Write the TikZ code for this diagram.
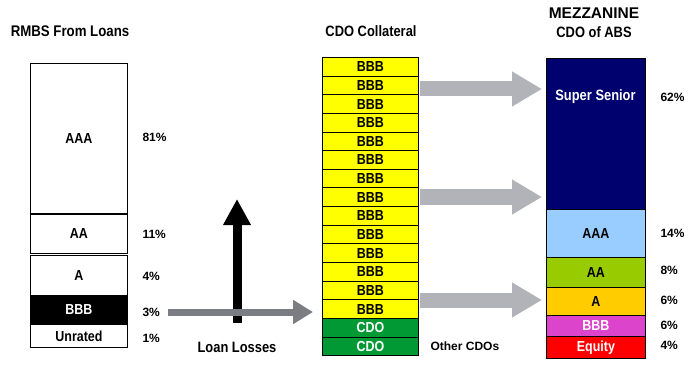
\documentclass[tikz,border=0pt]{standalone}
\usepackage{fontspec}
\setmainfont{Liberation Sans}
\newfontfamily\condfont{Liberation Sans}[FakeStretch=0.86]
\usetikzlibrary{arrows.meta}
\definecolor{cdoyellow}{RGB}{255,255,0}
\definecolor{cdogreen}{RGB}{0,153,51}
\definecolor{ssnavy}{RGB}{0,0,110}
\definecolor{aaablue}{RGB}{153,204,255}
\definecolor{aagreen}{RGB}{153,204,0}
\definecolor{aorange}{RGB}{255,204,0}
\definecolor{bbbpink}{RGB}{221,68,204}
\definecolor{eqred}{RGB}{255,0,0}
\definecolor{arrowgray}{RGB}{178,179,185}
\definecolor{lossgray}{RGB}{122,126,130}
\tikzset{
  tranche/.style={draw, line width=0.9pt, anchor=north west, minimum width=97pt,
    inner sep=0pt, font=\condfont\bfseries\fontsize{14.5}{14.5}\selectfont},
  pct/.style={anchor=west, font=\bfseries\fontsize{12}{12}\selectfont},
  heading/.style={font=\condfont\bfseries\fontsize{15}{15}\selectfont},
  bigarrow/.style={draw=arrowgray, line width=15pt, -{Triangle[length=30pt,width=33pt]}}
}
\begin{document}
\begin{tikzpicture}[x=1pt, y=-1pt]
            \useasboundingbox (0,0) rectangle (700,379);
            % titles
            \node [heading, font=\condfont\bfseries\fontsize{15.4}{15.4}\selectfont] (rmbs) at (70, 31) {RMBS From Loans};
            \node [heading] (collateral) at (371, 31) {CDO Collateral};
            \node [heading, font=\bfseries\fontsize{15.5}{15.5}\selectfont] (mezz) at (594, 13) {MEZZANINE};
            \node [heading] (cdoabs) at (594, 32) {CDO of ABS};
            % RMBS
            \node [tranche, minimum height=150pt] (aaa) at (30, 63) {AAA};
            \node [tranche, minimum height=39pt] (aa) at (30, 214) {AA};
            \node [tranche, minimum height=40pt] (a) at (30, 255) {A};
            \node [tranche, minimum height=29pt, fill=black, text=white] (bbb) at (30, 295) {BBB};
            \node [tranche, minimum height=23pt] (unrated) at (30, 324) {Unrated};
            \node [pct] (p81) at (139, 137) {81\%};
            \node [pct] (p11) at (139, 234) {11\%};
            \node [pct] (p4) at (139, 276) {4\%};
            \node [pct] (p3) at (139, 312) {3\%};
            \node [pct] (p1) at (139, 338) {1\%};
            % CDO collateral
            \foreach \i in {0,...,13}
              \node [tranche, minimum width=96pt, minimum height=18.64pt, fill=cdoyellow] (col\i) at (322, {57+18.64*\i}) {BBB};
            \node [tranche, minimum width=96pt, minimum height=19pt, fill=cdogreen, text=white] (cdo1) at (322, 318) {CDO};
            \node [tranche, minimum width=96pt, minimum height=18pt, fill=cdogreen, text=white] (cdo2) at (322, 337) {CDO};
            \node [pct] (other) at (427, 346) {Other CDOs};
            % mezzanine CDO
            \node [tranche, minimum width=99pt, minimum height=151pt, fill=ssnavy] (senior) at (546, 58) {};
            \node [heading, text=white] (seniortext) at (595.5, 97) {Super Senior};
            \node [tranche, minimum width=99pt, minimum height=48pt, fill=aaablue] (maaa) at (546, 209) {AAA};
            \node [tranche, minimum width=99pt, minimum height=30pt, fill=aagreen] (maa) at (546, 257) {AA};
            \node [tranche, minimum width=99pt, minimum height=28pt, fill=aorange] (ma) at (546, 287) {A};
            \node [tranche, minimum width=99pt, minimum height=21pt, fill=bbbpink, text=white] (mbbb) at (546, 315) {BBB};
            \node [tranche, minimum width=99pt, minimum height=22pt, fill=eqred, text=white] (equity) at (546, 336) {Equity};
            \node [pct] (p62) at (657, 97) {62\%};
            \node [pct] (p14) at (657, 233) {14\%};
            \node [pct] (q8) at (657, 270) {8\%};
            \node [pct] (q6) at (657, 300) {6\%};
            \node [pct] (r6) at (657, 325) {6\%};
            \node [pct] (q4) at (657, 345) {4\%};
            % arrows
            \coordinate (up0) at (237, 323);
            \coordinate (up1) at (237, 199);
            \draw [line width=9pt, -{Triangle[length=26pt,width=26pt]}] (up0) -- (up1);
            \coordinate (loss0) at (168, 312);
            \coordinate (loss1) at (313, 312);
            \draw [draw=lossgray, line width=7pt, -{Triangle[length=20pt,width=23pt]}] (loss0) -- (loss1);
            \node [heading] (losses) at (237, 347) {Loan Losses};
            \coordinate (g1) at (420, 89);
            \coordinate (h1) at (542, 89);
            \coordinate (g2) at (420, 197);
            \coordinate (h2) at (542, 197);
            \coordinate (g3) at (420, 300);
            \coordinate (h3) at (542, 300);
            \draw [bigarrow] (g1) -- (h1);
            \draw [bigarrow] (g2) -- (h2);
            \draw [bigarrow] (g3) -- (h3);
\end{tikzpicture}
\end{document}
